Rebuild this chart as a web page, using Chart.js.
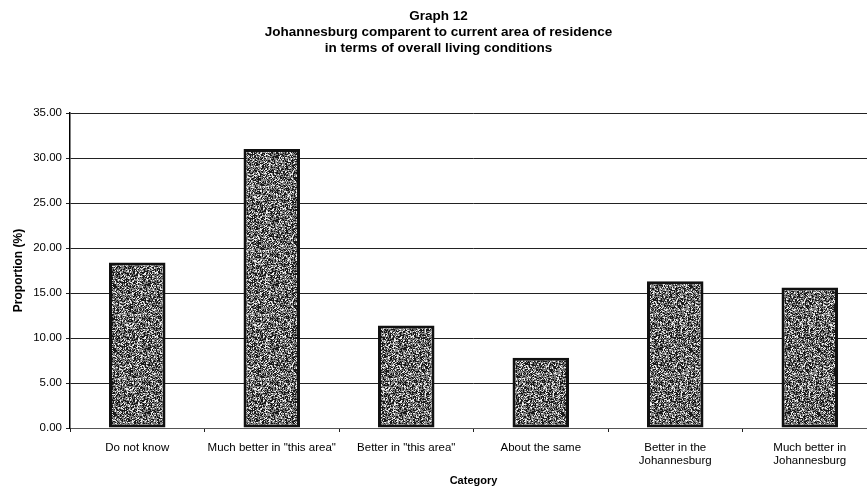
<!DOCTYPE html>
<html>
<head>
<meta charset="utf-8">
<script src="https://cdn.jsdelivr.net/npm/chart.js@4/dist/chart.umd.min.js"></script>
<style>
  html, body { margin: 0; padding: 0; background: #fff; overflow: hidden; }
  #wrap { width: 884px; height: 488px; }
</style>
</head>
<body>
<div id="wrap"><canvas id="c" width="884" height="488"></canvas></div>
<script>
// Survey categories and share of respondents (%)
const categories = [
  'Do not know',
  'Much better in "this area"',
  'Better in "this area"',
  'About the same',
  ['Better in the', 'Johannesburg'],
  ['Much better in', 'Johannesburg']
];
const proportions = [18.4, 31.0, 11.4, 7.8, 16.3, 15.6];
const titleLines = [
  'Graph 12',
  'Johannesburg comparent to current area of residence',
  'in terms of overall living conditions'
];
const yTitle = 'Proportion (%)';
const xTitle = 'Category';

// Stippled grey fill for the bars, built from a fixed hash of pixel position
function stipple() {
  const size = 64;
  const cv = document.createElement('canvas');
  cv.width = size; cv.height = size;
  const g = cv.getContext('2d');
  const img = g.createImageData(size, size);
  for (let y = 0; y < size; y++) {
    for (let x = 0; x < size; x++) {
      let h = Math.imul(x + 1, 374761393) ^ Math.imul(y + 7, 668265263);
      h = Math.imul(h ^ (h >>> 13), 1274126177);
      h = (h ^ (h >>> 16)) >>> 0;
      const r = h % 100;
      const v = r < 36 ? 25 : (r < 64 ? 140 : (r < 82 ? 105 : 235));
      const i = (y * size + x) * 4;
      img.data[i] = v; img.data[i + 1] = v; img.data[i + 2] = v; img.data[i + 3] = 255;
    }
  }
  g.putImageData(img, 0, 0);
  return g.createPattern(cv, 'repeat');
}

const FONT = '"Liberation Sans", Arial, sans-serif';

new Chart(document.getElementById('c'), {
  type: 'bar',
  data: {
    labels: categories,
    datasets: [{
      data: proportions,
      backgroundColor: stipple(),
      borderColor: '#111',
      borderWidth: 3,
      borderSkipped: false,
      barPercentage: 0.42,
      categoryPercentage: 1.0
    }]
  },
  options: {
    responsive: false,
    devicePixelRatio: 1,
    animation: false,
    layout: { padding: { left: 0, right: 7, top: 0, bottom: 0 } },
    plugins: {
      legend: { display: false },
      tooltip: { enabled: false },
      title: {
        display: true,
        text: titleLines,
        color: '#000',
        font: { family: FONT, size: 13.5, weight: 'bold', lineHeight: 16 / 13.5 },
        padding: { top: 8, bottom: 57 }
      }
    },
    scales: {
      x: {
        afterFit: s => { s.height = 60; },
        grid: {
          offset: true,
          drawOnChartArea: false,
          drawTicks: true,
          tickLength: 4,
          color: '#222'
        },
        border: { display: true, color: '#555', width: 1 },
        ticks: {
          color: '#000',
          autoSkip: false,
          maxRotation: 0,
          minRotation: 0,
          padding: 10,
          font: { family: FONT, size: 11.5, lineHeight: 1.08 }
        },
        title: {
          display: true,
          text: xTitle,
          color: '#000',
          font: { family: FONT, size: 11, weight: 'bold', lineHeight: 1.2 },
          padding: { top: 0, bottom: 0 }
        }
      },
      y: {
        min: 0,
        max: 35,
        afterFit: s => { s.width = 70; },
        grid: {
          color: '#222',
          lineWidth: 1,
          drawTicks: true,
          tickLength: 4
        },
        border: { display: true, color: '#000', width: 1.5 },
        ticks: {
          stepSize: 5,
          color: '#000',
          padding: 4,
          font: { family: FONT, size: 11.5 },
          callback: v => Number(v).toFixed(2)
        },
        title: {
          display: true,
          text: yTitle,
          color: '#000',
          font: { family: FONT, size: 12, weight: 'bold', lineHeight: 1.2 },
          padding: { top: 11, bottom: 0 }
        }
      }
    }
  }
});
</script>
</body>
</html>
